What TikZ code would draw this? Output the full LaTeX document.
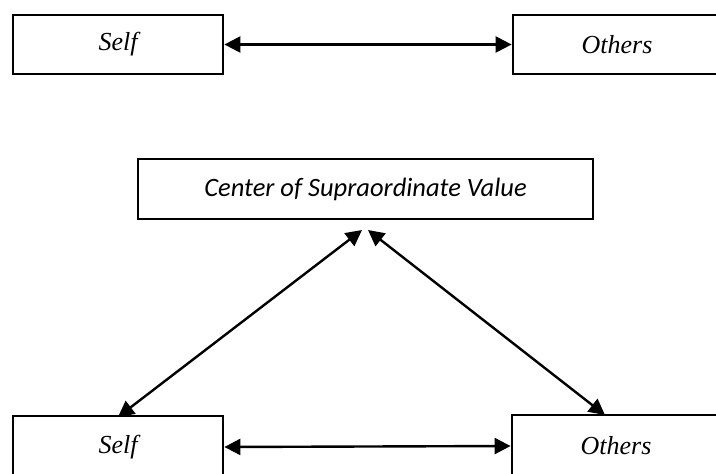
\documentclass[tikz,border=0pt]{standalone}
\usepackage{fontspec}
\setmainfont{Liberation Serif}
\newfontfamily\carl{Carlito}
\usetikzlibrary{arrows.meta}
\begin{document}
\begin{tikzpicture}[x=1pt,y=-1pt,
  box/.style={draw=black,line width=2.8pt,rectangle,inner sep=0pt,fill=white},
  lbl/.style={font=\fontsize{26}{30}\selectfont\itshape},
  clbl/.style={font=\fontsize{26.5}{30}\selectfont\carl\itshape},
  link/.style={line width=2.4pt,{Triangle[length=16pt,width=16pt]}-{Triangle[length=16pt,width=16pt]}}]
\useasboundingbox (0,0) rectangle (716,474);
\clip (0,0) rectangle (716,474);
\fill[white] (0,0) rectangle (716,474);
% top row
\node[box,lbl,minimum width=210pt,minimum height=59pt] (selfA) at (118,44.5) {\raisebox{-2pt}{Self}};
\node[box,lbl,minimum width=208pt,minimum height=59pt] (othA) at (617,44.5) {\raisebox{-2pt}{Others}};
\draw[link] (selfA.east) -- (othA.west);
% centre
\node[box,clbl,minimum width=455pt,minimum height=60pt] (cent) at (365.5,189) {Center of Supraordinate Value};
% bottom row
\node[box,lbl,minimum width=210pt,minimum height=62pt] (selfB) at (118,447) {Self};
\node[box,lbl,minimum width=208pt,minimum height=62pt] (othB) at (616,446) {Others};
\draw[link] (selfB.east) -- (othB.west);
% diagonals
\coordinate (tl) at (362,230);
\coordinate (tr) at (368,230);
\coordinate (bl) at (118,417);
\coordinate (br) at (605,415);
\draw[link] (tl) -- (bl);
\draw[link] (tr) -- (br);
\end{tikzpicture}
\end{document}
